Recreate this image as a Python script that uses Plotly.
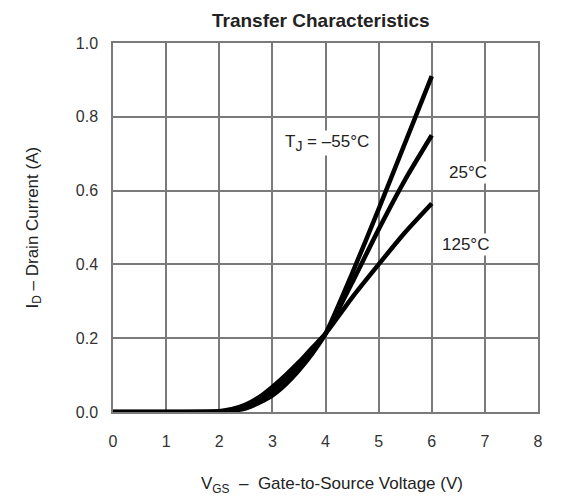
import plotly.graph_objects as go

vgs = [0, 1, 2, 2.25, 2.5, 2.75, 3, 3.25, 3.5, 3.75, 4, 4.5, 5, 5.5, 6]
id_m55 = [0, 0, 0.0, 0.003, 0.010, 0.025, 0.045, 0.075, 0.113, 0.158, 0.212, 0.375, 0.55, 0.73, 0.91]
id_25 = [0, 0, 0.001, 0.005, 0.015, 0.032, 0.058, 0.090, 0.127, 0.167, 0.212, 0.35, 0.495, 0.63, 0.75]
id_125 = [0, 0, 0.002, 0.008, 0.020, 0.040, 0.068, 0.100, 0.135, 0.174, 0.212, 0.31, 0.40, 0.487, 0.565]

series = [("-55", id_m55), ("25", id_25), ("125", id_125)]
x_ticks = [0, 1, 2, 3, 4, 5, 6, 7, 8]
y_ticks = [0.0, 0.2, 0.4, 0.6, 0.8, 1.0]
y_tick_text = ["0.0", "0.2", "0.4", "0.6", "0.8", "1.0"]

labels = [
    ("T<sub><span style='font-size:14px'>J</span></sub> = –55°C", 4.03, 0.73),
    ("25°C", 6.69, 0.65),
    ("125°C", 6.63, 0.453),
]

FONT = "Liberation Sans, Arial, sans-serif"

fig = go.Figure()
for name, ys in series:
    fig.add_trace(go.Scatter(x=vgs, y=ys, mode="lines", name=name,
                             line=dict(color="black", width=4.5, shape="spline", smoothing=0.6),
                             showlegend=False, hoverinfo="skip"))

for txt, lx, ly in labels:
    fig.add_annotation(x=lx, y=ly, xref="x", yref="y", text=txt, showarrow=False,
                       bgcolor="white", font=dict(family=FONT, size=17, color="#222"),
                       borderpad=1)

fig.add_annotation(x=0.49, y=1, xref="paper", yref="paper", yshift=23, yanchor="middle",
                   text="<b>Transfer Characteristics</b>", showarrow=False,
                   font=dict(family=FONT, size=19, color="#222"))
fig.add_annotation(x=0.515, y=0, xref="paper", yref="paper", yshift=-73, yanchor="middle",
                   text="V<sub>GS</sub>  –  Gate-to-Source Voltage (V)", showarrow=False,
                   font=dict(family=FONT, size=17, color="#222"))
fig.add_annotation(x=0, y=0.5, xref="paper", yref="paper", xshift=-80, xanchor="center",
                   text="I<sub>D</sub> – Drain Current (A)", showarrow=False, textangle=-90,
                   font=dict(family=FONT, size=17, color="#222"))

axis_common = dict(showgrid=True, gridcolor="#7a7a7a", gridwidth=1.5, zeroline=False,
                   showline=True, linecolor="#7a7a7a", linewidth=1.5, mirror=True,
                   ticks="", automargin=False,
                   tickfont=dict(family=FONT, size=16, color="#333"))

fig.update_xaxes(range=[0, 8], tickvals=x_ticks, ticklabelstandoff=14, **axis_common)
fig.update_yaxes(range=[0, 1], tickvals=y_ticks, ticktext=y_tick_text, ticklabelstandoff=10, **axis_common)

fig.update_layout(width=573, height=502, margin=dict(l=113, r=35, t=43, b=90),
                  plot_bgcolor="white", paper_bgcolor="white")

fig.write_html("out.html", config={"displayModeBar": False},
               post_script="document.body.style.margin='0';document.body.style.overflow='hidden';")
